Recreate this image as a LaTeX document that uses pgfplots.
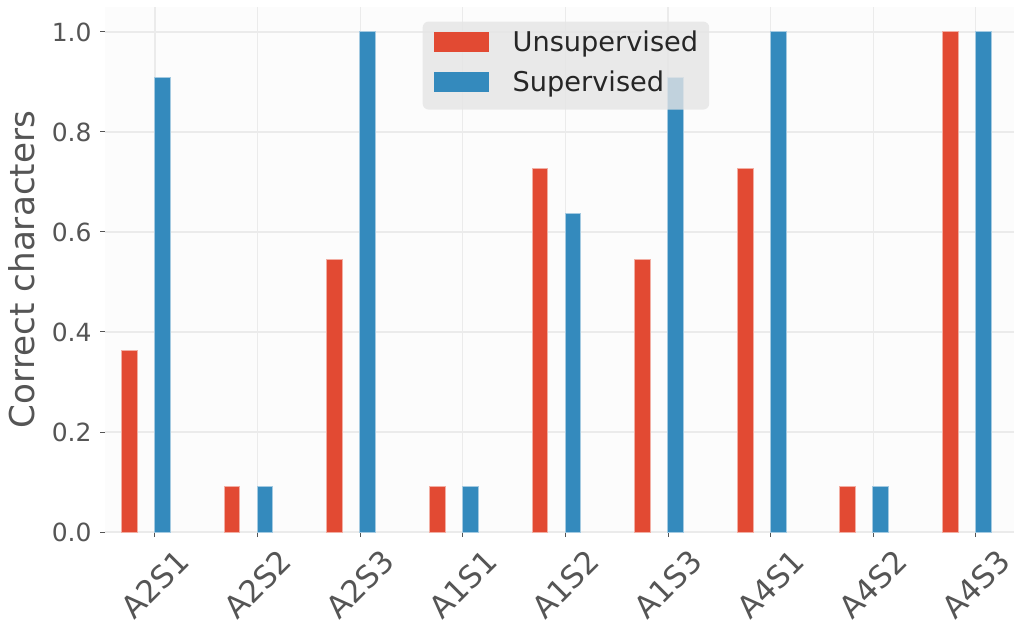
\documentclass[border=0pt]{standalone}
\usepackage{pgfplots}
\pgfplotsset{compat=1.18}
\usepackage{fontspec}
\setmainfont{DejaVu Sans}
\definecolor{cred}{HTML}{E24A33}
\definecolor{cblue}{HTML}{348ABD}
\definecolor{ctext}{HTML}{555555}
\definecolor{cgrid}{HTML}{EBEBEB}
\definecolor{cbg}{HTML}{FCFCFC}
\definecolor{clegbg}{HTML}{E5E5E5}
\definecolor{clegtext}{HTML}{262626}
\begin{document}
\begin{tikzpicture}
\begin{axis}[
  name=ax,
  scale only axis,
  width=454.5pt, height=262.5pt,
  xmin=-0.487, xmax=8.372, ymin=0, ymax=1.05,
  axis line style={draw=none},
  axis background/.style={fill=cbg},
  ybar, bar width=7.9pt,
  xtick={0,1,2,3,4,5,6,7,8},
  xticklabels={\rotatebox{45}{A2S1},\rotatebox{45}{A2S2},\rotatebox{45}{A2S3},\rotatebox{45}{A1S1},\rotatebox{45}{A1S2},\rotatebox{45}{A1S3},\rotatebox{45}{A4S1},\rotatebox{45}{A4S2},\rotatebox{45}{A4S3}},
  ytick={0,0.2,0.4,0.6,0.8,1.0},
  yticklabel style={/pgf/number format/fixed, /pgf/number format/fixed zerofill, /pgf/number format/precision=1, /pgf/number format/assume math mode=true},
  xticklabel style={font=\fontsize{15.4}{18}\selectfont, text=ctext, anchor=north, inner sep=0pt, yshift=-5pt},
  yticklabel style={font=\fontsize{12.5}{15}\selectfont, text=ctext, anchor=east, inner sep=0pt, xshift=-4pt},
  tick align=outside, xtick pos=left, ytick pos=left,
  major tick length=2.5pt,
  tick style={color=ctext, line width=0.5pt},
  grid=major,
  major grid style={color=cgrid, line width=0.6pt},
  legend style={at={(rel axis cs:0.349,0.973)}, anchor=north west,
    fill=clegbg, fill opacity=0.8, draw opacity=0, text opacity=1,
    rounded corners=3pt,
    font=\fontsize{13.6}{16}\selectfont, text=clegtext,
    inner xsep=5.5pt, inner ysep=5pt, row sep=6pt, column sep=11.5pt,
    nodes={inner sep=0pt, anchor=base west, text height=10pt, text depth=4pt}},
  legend cell align=left,
  legend image code/.code={\fill[#1, fill opacity=1, sharp corners] (0pt,0pt) rectangle (27.5pt,9.6pt);},
]
\addplot[fill=cred, draw=cred!45!white, line width=0.5pt, bar shift=-12.75pt] coordinates {
(0,0.3636) (1,0.0909) (2,0.5455) (3,0.0909) (4,0.7273) (5,0.5455) (6,0.7273) (7,0.0909) (8,1.0)};
\addlegendentry{Unsupervised}
\addplot[fill=cblue, draw=cblue!45!white, line width=0.5pt, bar shift=3.75pt] coordinates {
(0,0.9091) (1,0.0909) (2,1.0) (3,0.0909) (4,0.6364) (5,0.9091) (6,1.0) (7,0.0909) (8,1.0)};
\addlegendentry{Supervised}
\end{axis}
\node[rotate=90, anchor=base, font=\fontsize{17.1}{20}\selectfont, text=ctext] at ([xshift=-35pt]ax.west) {Correct characters};
\pgfresetboundingbox
\path ([shift={(-52.5pt,-47pt)}]ax.south west) rectangle ([shift={(0pt,3.5pt)}]ax.north east);
\end{tikzpicture}
\end{document}
